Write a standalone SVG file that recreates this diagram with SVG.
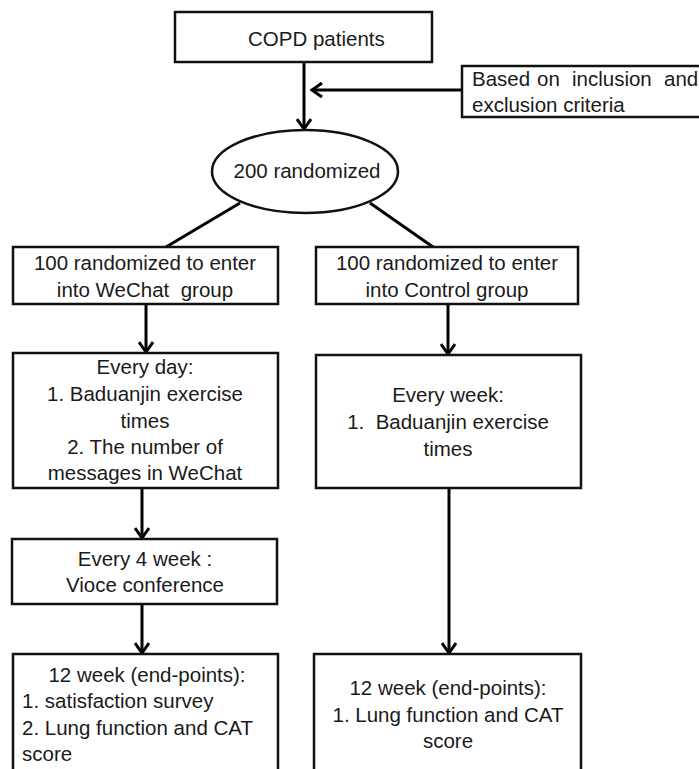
<svg xmlns="http://www.w3.org/2000/svg" width="699" height="769" viewBox="0 0 699 769">
<defs>
<marker id="ah" markerUnits="userSpaceOnUse" markerWidth="14" markerHeight="16" viewBox="0 0 14 16" refX="12" refY="8" orient="auto">
<path d="M2,1 L12,8 L2,15" fill="none" stroke="#000" stroke-width="3"/>
</marker>
<style>
.box{fill:#fff;stroke:#111;stroke-width:2.5}
.t{font-family:"Liberation Sans",Arial,sans-serif;font-size:20.5px;fill:#1a1a1a}
.c{text-anchor:middle}
.ln{fill:none;stroke:#000;stroke-width:3}
.ar{fill:none;stroke:#000;stroke-width:3;marker-end:url(#ah)}
</style>
</defs>
<rect width="699" height="769" fill="#fff"/>
<g id="connectors">
<line class="ar" x1="304" y1="62" x2="304" y2="129"/>
<line class="ar" x1="462" y1="90" x2="312" y2="90"/>
<line class="ln" x1="240" y1="203" x2="166" y2="247"/>
<line class="ln" x1="370" y1="203" x2="433" y2="247"/>
<line class="ar" x1="146" y1="304" x2="146" y2="352"/>
<line class="ar" x1="448" y1="304" x2="448" y2="354"/>
<line class="ar" x1="142" y1="488" x2="142" y2="538"/>
<line class="ar" x1="142" y1="604" x2="142" y2="653"/>
<line class="ar" x1="449" y1="488" x2="449" y2="653"/>
</g>
<g id="copd">
<rect class="box" x="175" y="12" width="257" height="50"/>
<text class="t" x="248" y="46">COPD patients</text>
</g>
<g id="criteria">
<rect class="box" x="462" y="66" width="260" height="51"/>
<text class="t" y="86"><tspan x="472">Based</tspan><tspan x="537">on</tspan><tspan x="572">inclusion</tspan><tspan x="664">and</tspan></text>
<text class="t" x="472" y="112">exclusion criteria</text>
</g>
<g id="randomized">
<ellipse cx="305" cy="171.5" rx="93" ry="41.5" fill="#fff" stroke="#111" stroke-width="2.5"/>
<text class="t c" x="307" y="178">200 randomized</text>
</g>
<g id="wechat-group">
<rect class="box" x="13" y="247" width="265" height="57"/>
<text class="t c" x="145" y="270">100 randomized to enter</text>
<text class="t c" x="145" y="297" xml:space="preserve">into WeChat  group</text>
</g>
<g id="control-group">
<rect class="box" x="316" y="247" width="262" height="57"/>
<text class="t c" x="447" y="270">100 randomized to enter</text>
<text class="t c" x="447" y="297">into Control group</text>
</g>
<g id="every-day">
<rect class="box" x="13" y="353" width="265" height="135"/>
<text class="t c" x="145" y="374">Every day:</text>
<text class="t c" x="145" y="401">1. Baduanjin exercise</text>
<text class="t c" x="145" y="428">times</text>
<text class="t c" x="145" y="454">2. The number of</text>
<text class="t c" x="145" y="480">messages in WeChat</text>
</g>
<g id="every-week">
<rect class="box" x="316" y="355" width="265" height="133"/>
<text class="t c" x="448" y="402">Every week:</text>
<text class="t c" x="448" y="429" xml:space="preserve">1.  Baduanjin exercise</text>
<text class="t c" x="448" y="456">times</text>
</g>
<g id="every-4-week">
<rect class="box" x="12" y="539" width="265" height="65"/>
<text class="t c" x="145" y="566">Every 4 week :</text>
<text class="t c" x="145" y="592">Vioce conference</text>
</g>
<g id="endpoints-wechat">
<rect class="box" x="13" y="654" width="265" height="130"/>
<text class="t c" x="147" y="682">12 week (end-points):</text>
<text class="t" x="22" y="708">1. satisfaction survey</text>
<text class="t" x="22" y="735">2. Lung function and CAT</text>
<text class="t" x="22" y="761">score</text>
</g>
<g id="endpoints-control">
<rect class="box" x="314" y="654" width="267" height="130"/>
<text class="t c" x="448" y="695">12 week (end-points):</text>
<text class="t c" x="448" y="722">1. Lung function and CAT</text>
<text class="t c" x="448" y="748">score</text>
</g>
</svg>
